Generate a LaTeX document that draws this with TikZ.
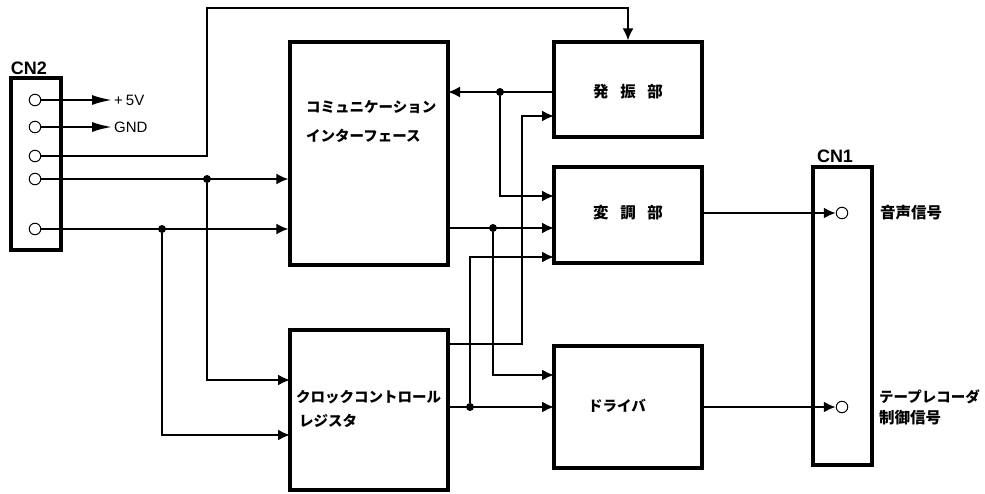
\documentclass[tikz,border=0pt]{standalone}
\usepackage{fontspec}
\setmainfont{Liberation Sans}
\newfontfamily\jp{Noto Sans CJK JP}
\usetikzlibrary{arrows.meta}

\begin{document}
\begin{tikzpicture}[x=1pt, y=-1pt,
    bloque/.style={draw, line width=3.2pt, inner sep=0pt},
    linea/.style={line width=2pt},
    flecha/.style={linea, -{Latex[length=12pt,width=11pt]}},
    flechalarga/.style={linea, -{Latex[length=20pt,width=10pt]}},
    pin/.style={draw, line width=1pt, circle, fill=white, minimum size=11.5pt, inner sep=0pt},
    punto/.style={circle, fill, minimum size=8pt, inner sep=0pt},
    texto/.style={font=\jp\bfseries\fontsize{14.5}{16}\selectfont, anchor=west, inner sep=0pt},
    kanji/.style={font=\jp\bfseries\fontsize{15.5}{17}\selectfont, anchor=west, inner sep=0pt},
    rotulo/.style={font=\bfseries\fontsize{18}{20}\selectfont, inner sep=0pt},
    senal/.style={font=\fontsize{15}{17}\selectfont, anchor=west, inner sep=2pt},
  ]
    % Definir el marco
    \useasboundingbox (0,0) rectangle (985,493);

    % Conector CN2 y sus terminales
    \node[bloque, minimum width=50pt, minimum height=172pt] (cn2) at (36,164) {};
    \node[rotulo] (cn2t) at (29,68) {CN2};
    \node[pin] (p1) at (35,100) {};
    \node[pin] (p2) at (35,127) {};
    \node[pin] (p3) at (35,156) {};
    \node[pin] (p4) at (35,179) {};
    \node[pin] (p5) at (35,229) {};
    \node[senal] (v5) at (112,100) {+\hspace{3pt}5V};
    \node[senal] (gnd) at (112,127) {GND};

    % Bloques principales
    \node[bloque, minimum width=158pt, minimum height=223pt] (com) at (369,153.5) {};
    \node[texto] (comt1) at (306,107) {コミュニケーション};
    \node[texto] (comt2) at (306,136) {インターフェース};
    \node[bloque, minimum width=158pt, minimum height=160pt] (clk) at (369,410) {};
    \node[texto] (clkt1) at (296,397) {クロックコントロール};
    \node[texto] (clkt2) at (299,421) {レジスタ};
    \node[bloque, minimum width=148pt, minimum height=95pt] (osc) at (628,89.5) {};
    \node[kanji, anchor=center] (osct) at (628,92) {発\hspace{0.75em}振\hspace{0.75em}部};
    \node[bloque, minimum width=148pt, minimum height=96pt] (mod) at (628,215) {};
    \node[kanji, anchor=center] (modt) at (628,213) {変\hspace{0.75em}調\hspace{0.75em}部};
    \node[bloque, minimum width=148pt, minimum height=122pt] (drv) at (628,407) {};
    \node[texto, anchor=center] (drvt) at (617,406) {ドライバ};

    % Conector CN1 y sus terminales
    \node[bloque, minimum width=59pt, minimum height=298pt] (cn1) at (842.5,316) {};
    \node[rotulo] (cn1t) at (835,156) {CN1};
    \node[pin] (q1) at (842,213) {};
    \node[pin] (q2) at (842,407) {};
    \node[kanji] (q1t) at (880,213) {音声信号};
    \node[texto] (q2t) at (879,397) {テープレコーダ};
    \node[kanji] (q2u) at (879,418) {制御信号};

    % Puntos de entrada y salida de los bloques
    \coordinate (co1) at (448,92);
    \coordinate (co2) at (448,228);
    \coordinate (oo) at (554,92);
    \coordinate (oi) at (554,116);
    \coordinate (b1) at (522,116);
    \coordinate (mi1) at (554,196);
    \coordinate (mi2) at (554,228);
    \coordinate (mi3) at (554,257);
    \coordinate (mo) at (702,213);
    \coordinate (ca) at (290,380);
    \coordinate (cb) at (290,435);
    \coordinate (k1) at (448,344);
    \coordinate (k2) at (448,407);
    \coordinate (di1) at (554,375);
    \coordinate (di2) at (554,407);
    \coordinate (do) at (702,407);
    \coordinate (t1) at (207,8);

    % Alimentación
    \draw[flechalarga] (p1) -- (v5);
    \draw[flechalarga] (p2) -- (gnd);

    % Línea superior hacia el oscilador
    \draw[flecha] (p3) -| (t1) -| (osc.north);

    % Entradas desde CN2
    \draw[flecha] (p4) -- (p4 -| com.west);
    \draw[flecha] (p5) -- (p5 -| com.west);
    \node[punto] (j1) at (207,179) {};
    \node[punto] (j2) at (162,229) {};
    \draw[flecha] (j1) |- (ca);
    \draw[flecha] (j2) |- (cb);

    % Oscilador e interfaz
    \draw[flecha] (oo) -- (co1);
    \node[punto] (j3) at (500,92) {};
    \draw[flecha] (j3) |- (mi1);
    \draw[flecha] (k1) -| (b1) -- (oi);
    \draw[flecha] (co2) -- (mi2);
    \node[punto] (j4) at (493,228) {};
    \draw[flecha] (j4) |- (di1);

    % Registro de control hacia el excitador
    \draw[flecha] (k2) -- (di2);
    \node[punto] (j5) at (470,407) {};
    \draw[flecha] (j5) |- (mi3);

    % Salidas hacia CN1
    \draw[flecha] (mo) -- (q1);
    \draw[flecha] (do) -- (q2);
\end{tikzpicture}
\end{document}
